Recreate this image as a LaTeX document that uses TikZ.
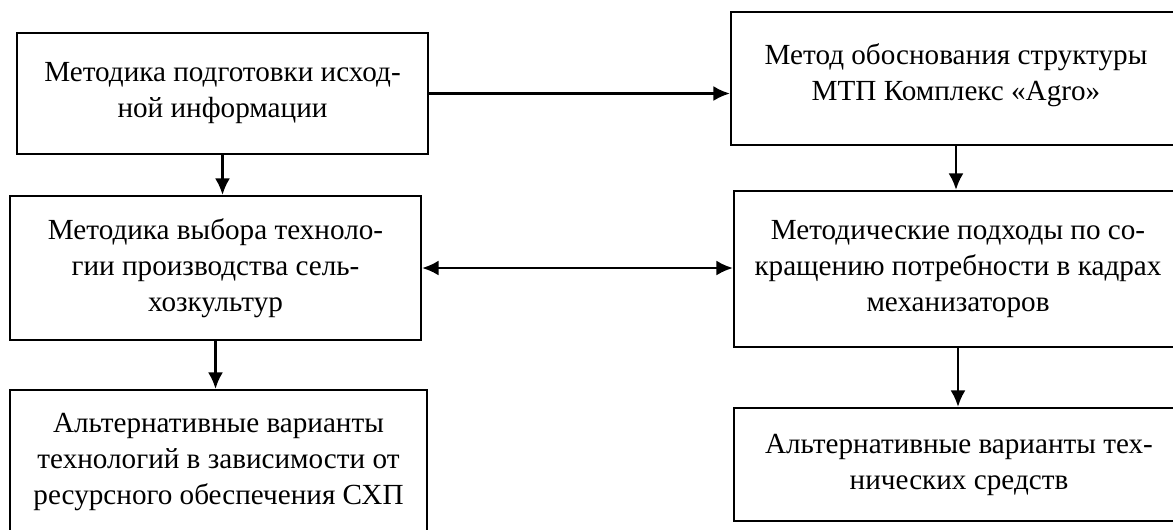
\documentclass[tikz,border=0pt]{standalone}
\usepackage{fontspec}
\setmainfont{Liberation Serif}
\usetikzlibrary{positioning}
\usetikzlibrary{calc}
\usetikzlibrary{arrows.meta}

\begin{document}
\begin{tikzpicture}[
  blok/.style={draw, line width=1.2pt, align=center, inner sep=0pt,
    font=\fontsize{16.6}{20.5}\selectfont},
  strel/.style={line width=1.5pt, -{Latex[length=3.3mm,width=3mm]}},
  dvstrel/.style={line width=1.5pt, {Latex[length=3.3mm,width=3mm]}-{Latex[length=3.3mm,width=3mm]}}]
\clip (0,0) rectangle (23.46,-10.58);
\useasboundingbox (0,0) rectangle (23.46,-10.58);

% left column
\node[blok, minimum width=8.22cm, minimum height=2.42cm](podg) at (4.45,-1.87){Методика подготовки исход-\\ной информации};
\node[blok, minimum width=8.22cm, minimum height=2.88cm](vybor) at (4.31,-5.36){Методика выбора техноло-\\гии производства сель-\\хозкультур};
\node[blok, minimum width=8.34cm, minimum height=2.88cm](altteh) at (4.37,-9.24){Альтернативные варианты\\технологий в зависимости от\\ресурсного обеспечения СХП};

% right column
\node[blok, minimum width=9.0cm, minimum height=2.66cm](mtp) at (19.12,-1.57){Метод обоснования структуры\\МТП Комплекс «Agro»\\[-0.45cm]~};
\node[blok, minimum width=8.96cm, minimum height=3.12cm](kadry) at (19.16,-5.38){Методические подходы по со-\\кращению потребности в кадрах\\механизаторов};
\node[blok, minimum width=9.0cm, minimum height=2.26cm](altsr) at (19.18,-9.29){Альтернативные варианты тех-\\нических средств};

\path
(podg.east) edge[strel] (podg.east -| mtp.west)
(podg.south) edge[strel] (podg.south |- vybor.north)
(vybor.south) edge[strel] (vybor.south |- altteh.north)
(vybor.east) edge[dvstrel] (vybor.east -| kadry.west)
(mtp.south) edge[strel] (mtp.south |- kadry.north)
(kadry.south) edge[strel] (kadry.south |- altsr.north);
\end{tikzpicture}
\end{document}
